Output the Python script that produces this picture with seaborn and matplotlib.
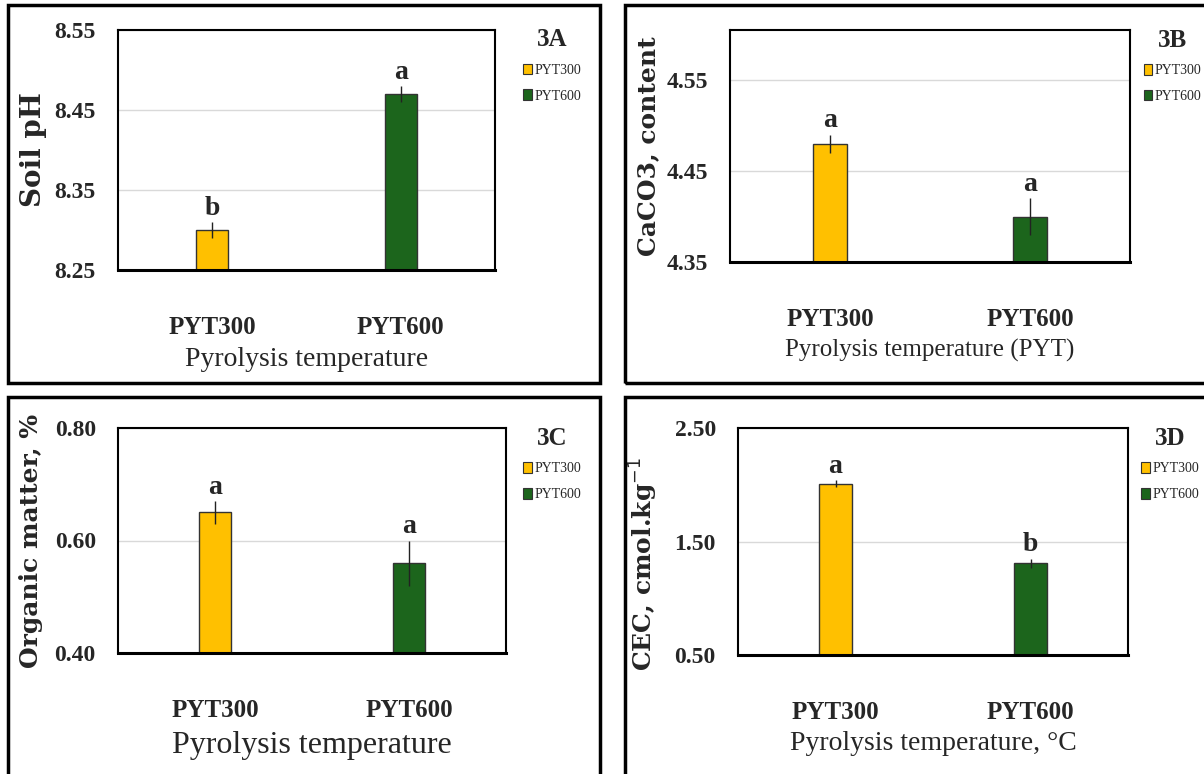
import pandas as pd
import matplotlib.pyplot as plt
import seaborn as sns
from matplotlib.patches import Patch, Rectangle

# data
groups = ["PYT300", "PYT600"]
colors = {"PYT300": "#FFC000", "PYT600": "#1C651C"}

ph_mean = [8.30, 8.47]
ph_err = [0.01, 0.01]
ph_letters = ["b", "a"]

caco3_mean = [4.48, 4.40]
caco3_err = [0.01, 0.02]
caco3_letters = ["a", "a"]

om_mean = [0.65, 0.56]
om_err = [0.02, 0.04]
om_letters = ["a", "a"]

cec_mean = [2.01, 1.31]
cec_err = [0.03, 0.04]
cec_letters = ["a", "b"]

sns.set_theme(style="white")
plt.rcParams["font.family"] = ["Liberation Serif", "DejaVu Serif"]

fig = plt.figure(figsize=(12.04, 7.74), dpi=100)

W, H = 1204, 774


def px_axes(left, top, right, bottom):
    return fig.add_axes([left / W, 1 - bottom / H, (right - left) / W, (bottom - top) / H])


def panel(ax, means, errs, letters, ylim, yticks, ylabel, xlabel, tag,
          xl_size, ylab_x, ylab_y, xlab_y, leg_x, yl_size=18):
    df = pd.DataFrame({"group": groups, "value": means})
    sns.barplot(data=df, x="group", y="value", hue="group", palette=colors,
                saturation=1, legend=False, width=0.17, edgecolor="#333333",
                linewidth=1.0, ax=ax)
    ax.errorbar(x=range(len(groups)), y=means, yerr=errs, fmt="none",
                ecolor="#222222", elinewidth=1.0, capsize=0)
    for i, (m, e, l) in enumerate(zip(means, errs, letters)):
        ax.annotate(l, (i, m + e), xytext=(0, 1), textcoords="offset points",
                    ha="center", va="bottom", fontsize=20, fontweight="bold")
    ax.set_ylim(*ylim)
    ax.set_xlim(-0.5, 1.5)
    ax.set_yticks(yticks)
    ax.set_yticklabels([f"{t:.2f}" for t in yticks], fontsize=17, fontweight="bold")
    ax.set_xticks(range(len(groups)))
    ax.set_xticklabels(groups, fontsize=18, fontweight="bold")
    ax.tick_params(axis="y", length=0, pad=16)
    ax.tick_params(axis="x", length=0, pad=33)
    ax.yaxis.grid(True, color="#d9d9d9", lw=1)
    ax.set_axisbelow(True)
    for s in ax.spines.values():
        s.set_color("black")
        s.set_linewidth(1.5)
    ax.spines["bottom"].set_linewidth(2.2)
    ax.set_ylabel(ylabel, fontsize=yl_size, fontweight="bold", family=["DejaVu Serif"])
    ax.yaxis.set_label_coords(ylab_x, ylab_y)
    ax.yaxis.label.set_va("center")
    ax.set_xlabel(xlabel, fontsize=xl_size)
    ax.xaxis.set_label_coords(0.5, xlab_y)
    ax.xaxis.label.set_va("center")
    handles = [Patch(facecolor=colors[g], edgecolor="#333333", lw=0.8) for g in groups]
    leg = ax.legend(handles, groups, title=tag, loc="upper left",
                    bbox_to_anchor=(leg_x, 1.03), frameon=False, fontsize=10,
                    handlelength=0.6, handleheight=0.8, handletextpad=0.2,
                    labelspacing=0.9, borderaxespad=0)
    leg.get_title().set_fontsize(18)
    leg.get_title().set_fontweight("bold")


axA = px_axes(118, 30, 495, 270)
panel(axA, ph_mean, ph_err, ph_letters, (8.25, 8.55), [8.25, 8.35, 8.45, 8.55],
      "Soil pH", "Pyrolysis temperature", "3A", 20, -0.225, 0.5, -0.375, 1.06, yl_size=20)

axB = px_axes(730, 30, 1130, 262)
panel(axB, caco3_mean, caco3_err, caco3_letters, (4.35, 4.605), [4.35, 4.45, 4.55],
      "CaCO3, content", "Pyrolysis temperature (PYT)", "3B", 18, -0.205, 0.5, -0.38, 1.02)

axC = px_axes(118, 428, 506, 653)
panel(axC, om_mean, om_err, om_letters, (0.40, 0.80), [0.40, 0.60, 0.80],
      "Organic matter, %", "Pyrolysis temperature", "3C", 23, -0.225, 0.5, -0.41, 1.03)

axD = px_axes(738, 428, 1128, 655)
panel(axD, cec_mean, cec_err, cec_letters, (0.50, 2.50), [0.50, 1.50, 2.50],
      "CEC, cmol.kg$^{-1}$", "Pyrolysis temperature, °C", "3D", 20, -0.24, 0.4, -0.39, 1.02)

# black frames around each panel
for (x0, y0, x1, y1) in [(8, 5, 600, 383), (625, 5, 1210, 383),
                         (8, 397, 600, 780), (625, 397, 1210, 780)]:
    fig.add_artist(Rectangle((x0 / W, 1 - y1 / H), (x1 - x0) / W, (y1 - y0) / H,
                             transform=fig.transFigure, fill=False, lw=2.5,
                             ec="black", clip_on=False))

fig.savefig("out.png", dpi=100)
